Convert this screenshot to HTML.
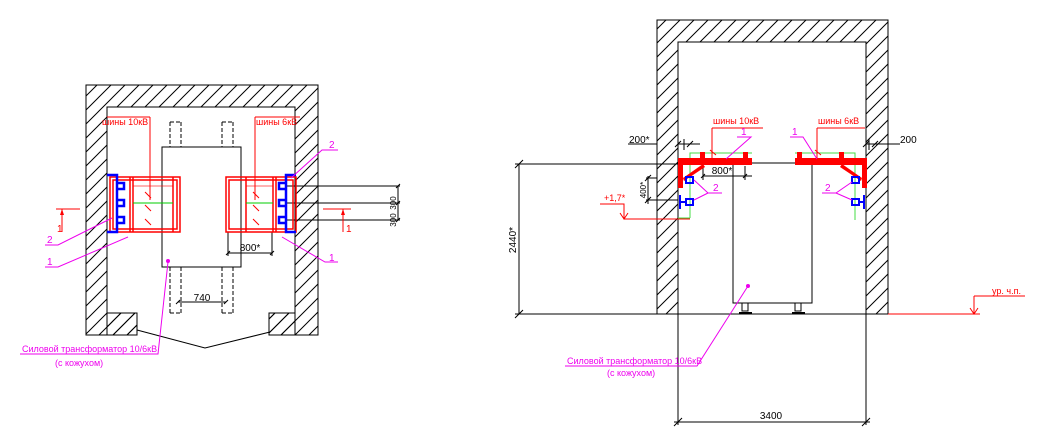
<!DOCTYPE html>
<html><head><meta charset="utf-8"><style>
html,body{margin:0;padding:0;background:#fff;}
svg{display:block;}
text{font-family:"Liberation Sans","DejaVu Sans",sans-serif;}
</style></head><body>
<svg width="1040" height="437" viewBox="0 0 1040 437" xmlns="http://www.w3.org/2000/svg">
<defs>
<pattern id="h" patternUnits="userSpaceOnUse" width="14" height="14">
<path d="M-2,16 L16,-2 M-7,7 L7,-7 M7,21 L21,7" stroke="#000" stroke-width="1"/>
</pattern>
</defs>
<!-- LEFT PLAN -->
<g fill="none" stroke="#000" stroke-width="1">
<path d="M86,85 H318 V335 H269 V313 H295 V107 H107 V313 H137 V335 H86 Z" fill="url(#h)"/>
<path d="M107,313 V335 H137 V313 Z" fill="url(#h)"/>
<path d="M269,313 V335 H295 V313 Z" fill="url(#h)"/>
<rect x="162" y="147" width="79" height="120" fill="#fff"/>
<g stroke-dasharray="4,2">
<path d="M170,122 V147 M181,122 V147 M170,122 H181 M222,122 V147 M233,122 V147 M222,122 H233"/>
<path d="M170,267 V313 M181,267 V313 M170,313 H181 M222,267 V313 M233,267 V313 M222,313 H233"/>
</g>
<path d="M178,302 H226 M176,304 l4,-4 M224,304 l4,-4"/>
<path d="M137,330 L205,348 L270,332"/>
<path d="M228,253 H272 M226,255 l4,-4 M270,255 l4,-4"/>
<path d="M228,232 V256 M272,232 V256"/>
<path d="M287,186 H400 M287,203 H400 M287,220 H400 M398,186 V220 M396,188 l4,-4 M396,205 l4,-4 M396,222 l4,-4"/>
</g>
<text x="202" y="301" font-size="10" text-anchor="middle">740</text>
<text x="250" y="251" font-size="10" text-anchor="middle">800*</text>
<text x="396" y="203" font-size="8" transform="rotate(-90 396 203)" text-anchor="middle">300</text>
<text x="396" y="220" font-size="8" transform="rotate(-90 396 220)" text-anchor="middle">300</text>
<g fill="none" stroke="#f00" stroke-width="1.5">
<rect x="110" y="177" width="70" height="55"/>
<rect x="113" y="180" width="64" height="49"/>
<path d="M130,177 V232 M133,177 V232 M173,177 V232"/>
<rect x="226" y="177" width="70" height="55"/>
<rect x="229" y="180" width="64" height="49"/>
<path d="M246,177 V232 M273,177 V232 M276,177 V232"/>
<path d="M150,117 V200 M107,117 H150 M255,117 V200 M255,117 H300" stroke-width="1"/>
<path d="M145,192 l6,6 M145,205 l6,6 M145,219 l6,6 M253,192 l6,6 M253,205 l6,6 M253,219 l6,6" stroke-width="1"/>
<path d="M56,209 H80 M62,209 V232" stroke-width="1"/>
<path d="M323,209 H351 M343,209 V232" stroke-width="1"/>
</g>
<path d="M62,209 l-2,6 h4 z M343,209 l-2,6 h4z" fill="#f00"/>
<g fill="none" stroke="#f00" stroke-width="1" opacity="0.6">
<path d="M133,186 H173 M246,186 H273"/>
</g>
<path d="M133,203 H173 M246,203 H273" stroke="#0c0" stroke-width="1"/>
<text x="102" y="125" font-size="9" fill="#f00">шины 10кВ</text>
<text x="256" y="125" font-size="9" fill="#f00">шины 6кВ</text>
<text x="57" y="232" font-size="10" fill="#f00">1</text>
<text x="346" y="232" font-size="10" fill="#f00">1</text>
<g fill="none" stroke="#00f" stroke-width="2.5">
<path d="M107,175 H117 V232 H107"/>
<path d="M118,183 h6 v6 h-6 M118,200 h6 v6 h-6 M118,217 h6 v6 h-6"/>
<path d="M296,175 H286 V232 H296"/>
<path d="M285,183 h-6 v6 h6 M285,200 h-6 v6 h6 M285,217 h-6 v6 h6"/>
</g>
<g fill="none" stroke="#e0e" stroke-width="1">
<path d="M45,245 H58 L112,218 M45,267 H58 L128,237 M338,150 H322 L291,178 M338,262 H325 L282,237 M20,354 H158 L168,262"/>
</g>
<circle cx="168" cy="261" r="2" fill="#e0e"/>
<text x="47" y="243" font-size="10" fill="#e0e">2</text>
<text x="47" y="265" font-size="10" fill="#e0e">1</text>
<text x="329" y="148" font-size="10" fill="#e0e">2</text>
<text x="329" y="261" font-size="10" fill="#e0e">1</text>
<text x="22" y="352" font-size="9" fill="#e0e">Силовой трансформатор 10/6кВ</text>
<text x="55" y="366" font-size="9" fill="#e0e">(с кожухом)</text>

<!-- RIGHT SECTION -->
<g fill="none" stroke="#000" stroke-width="1">
<path d="M657,314 V20 H888 V314 H866 V42 H678 V314 Z" fill="url(#h)"/>
<rect x="733" y="163" width="79" height="140" fill="#fff"/>
<path d="M515,314 H888 M515,164 H733 M519,164 V314 M515,168 l8,-8 M515,318 l8,-8"/>
<path d="M678,314 V425 M866,314 V425 M674,422 H870 M674,426 l8,-8 M862,426 l8,-8"/>
<path d="M628,144 H657 M678,144 H700 M675,147 l6,-6 M687,147 l6,-6 M684,139 V150"/>
<path d="M866,144 H900 M863,147 l6,-6 M872,147 l6,-6 M869,139 V150"/>
<path d="M703,176 H752 M703,166 V180 M745,166 V180 M701,178 l4,-4 M743,178 l4,-4"/>
<path d="M646,178 H657 M646,200 H678 M648,176 V204 M645,181 l6,-6 M645,203 l6,-6"/>
<rect x="742" y="303" width="6" height="8"/><rect x="795" y="303" width="6" height="8"/>
<path d="M739,313 H752 M792,313 H805" stroke-width="2"/>
</g>
<text x="629" y="143" font-size="10">200*</text>
<text x="900" y="143" font-size="10">200</text>
<text x="722" y="174" font-size="10" text-anchor="middle">800*</text>
<text x="771" y="419" font-size="10" text-anchor="middle">3400</text>
<text x="516" y="240" font-size="10" transform="rotate(-90 516 240)" text-anchor="middle">2440*</text>
<text x="646" y="190" font-size="8" transform="rotate(-90 646 190)" text-anchor="middle">400*</text>
<g fill="none" stroke="#4d4" stroke-width="1">
<path d="M690,218 V153 H752 M690,218 H678 M795,153 H855 V220"/>
</g>
<g fill="#f00" stroke="none">
<rect x="678" y="158" width="74" height="7"/>
<rect x="678" y="158" width="5" height="30"/>
<path d="M683,178 L703,164 L705,167 L684,181Z"/>
<rect x="700" y="152" width="5" height="8"/><rect x="743" y="152" width="5" height="8"/>
<rect x="795" y="158" width="72" height="7"/>
<rect x="862" y="158" width="5" height="30"/>
<path d="M862,178 L842,164 L840,167 L861,181Z"/>
<rect x="797" y="152" width="5" height="8"/><rect x="839" y="152" width="5" height="8"/>
</g>
<g fill="none" stroke="#f00" stroke-width="1">
<path d="M712,128 H763 M712,128 V158 M710,150 l6,5"/>
<path d="M817,128 H865 M817,128 V158 M815,150 l6,5"/>
<path d="M600,204 H624 V219 H690 M620,213 l4,6 l4,-6"/>
<path d="M888,314 H980 M974,296 V314 M970,308 l4,6 l4,-6 M974,296 H1025"/>
</g>
<text x="713" y="124" font-size="9" fill="#f00">шины 10кВ</text>
<text x="818" y="124" font-size="9" fill="#f00">шины 6кВ</text>
<text x="604" y="201" font-size="9" fill="#f00">+1,7*</text>
<text x="992" y="294" font-size="9" fill="#f00">ур. ч.п.</text>
<g fill="none" stroke="#00f" stroke-width="2">
<rect x="686" y="177" width="7" height="6"/>
<rect x="686" y="199" width="7" height="6"/>
<path d="M680,195 V209 M680,202 H686"/>
<rect x="852" y="177" width="7" height="6"/>
<rect x="852" y="199" width="7" height="6"/>
<path d="M864,195 V209 M859,202 H864"/>
</g>
<g fill="none" stroke="#e0e" stroke-width="1">
<path d="M737,137 H751 L726,159 M790,137 H803 L817,159"/>
<path d="M722,193 H708 L694,180 M708,193 L694,200"/>
<path d="M822,193 H836 L852,182 M836,193 L852,200"/>
<path d="M565,366 H697 L748,286"/>
</g>
<circle cx="748" cy="286" r="2" fill="#e0e"/>
<text x="741" y="135" font-size="10" fill="#e0e">1</text>
<text x="792" y="135" font-size="10" fill="#e0e">1</text>
<text x="713" y="191" font-size="10" fill="#e0e">2</text>
<text x="825" y="191" font-size="10" fill="#e0e">2</text>
<text x="567" y="364" font-size="9" fill="#e0e">Силовой трансформатор 10/6кВ</text>
<text x="607" y="376" font-size="9" fill="#e0e">(с кожухом)</text>
</svg>
</body></html>
